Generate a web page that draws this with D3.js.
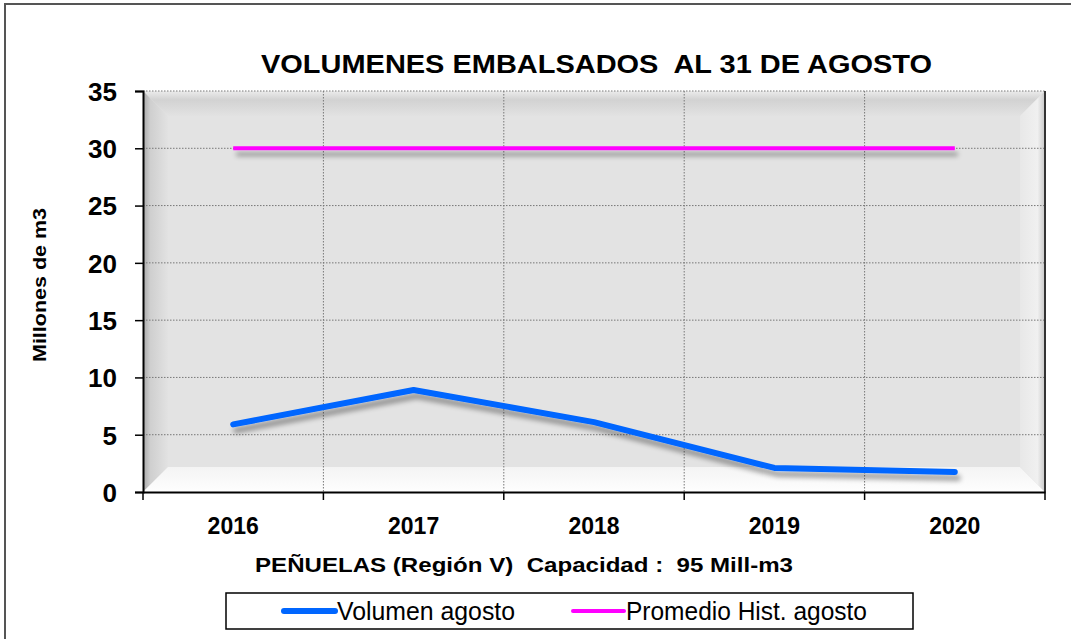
<!DOCTYPE html>
<html>
<head>
<meta charset="utf-8">
<script src="https://cdn.jsdelivr.net/npm/d3@7"></script>
<style>
  body { margin: 0; background: #fff; }
  svg { display: block; font-family: "Liberation Sans", Arial, sans-serif; }
</style>
</head>
<body>
<script>
// data
const years = ["2016", "2017", "2018", "2019", "2020"];
const volumen = [5.9, 8.9, 6.1, 2.1, 1.75];
const promedio = [30, 30, 30, 30, 30];
const yTicks = [0, 5, 10, 15, 20, 25, 30, 35];

const width = 1071;
const height = 639;

const svg = d3.select("body")
        .append("svg")
        .attr("width", width)
        .attr("height", height)

const defs = svg.append("defs")

// shadow behind the lines (user space so a flat line keeps its region)
const shadow = defs.append("filter")
        .attr("id", "shadow")
        .attr("filterUnits", "userSpaceOnUse")
        .attr("x", 0).attr("y", 0)
        .attr("width", width).attr("height", height)
shadow.append("feGaussianBlur").attr("in", "SourceAlpha").attr("stdDeviation", 2.5).attr("result", "blur")
shadow.append("feOffset").attr("in", "blur").attr("dx", 3).attr("dy", 6).attr("result", "off")
shadow.append("feComponentTransfer").attr("in", "off").attr("result", "soft")
        .append("feFuncA").attr("type", "linear").attr("slope", 0.35)
const merge = shadow.append("feMerge")
merge.append("feMergeNode").attr("in", "soft")
merge.append("feMergeNode").attr("in", "SourceGraphic")

const grad = (id, x2, y2, stops) => {
    const g = defs.append("linearGradient").attr("id", id)
        .attr("x1", 0).attr("y1", 0).attr("x2", x2).attr("y2", y2)
    stops.forEach(s => g.append("stop").attr("offset", s[0]).attr("stop-color", s[1]))
}
grad("bevTop", 0, 1, [[0, "#ececec"], [0.35, "#d2d2d2"], [1, "#e2e2e2"]])
grad("bevLeft", 1, 0, [[0, "#a8a8a8"], [0.3, "#cfcfcf"], [1, "#e2e2e2"]])
grad("bevBottom", 0, 1, [[0, "#f4f4f4"], [1, "#fefefe"]])
grad("bevRight", 1, 0, [[0, "#e8e8e8"], [0.7, "#f0f0f0"], [1, "#c8c8c8"]])

// outer frame
svg.append("rect")
        .attr("x", 5).attr("y", 4)
        .attr("width", 1100).attr("height", 700)
        .attr("fill", "none")
        .attr("stroke", "#555")
        .attr("stroke-width", 2)

const scaleX = d3.scaleBand()
        .domain(years)
        .range([143, 1045])
        .padding(0)

const scaleY = d3.scaleLinear()
        .domain([0, 35])
        .range([492, 91])

const x0 = scaleX.range()[0], x1 = scaleX.range()[1]
const yTop = scaleY(35), yBot = scaleY(0)
const bev = 25

// plot background with a bevel
svg.append("rect")
        .attr("x", x0).attr("y", yTop)
        .attr("width", x1 - x0).attr("height", yBot - yTop)
        .attr("fill", "#e3e3e3")

const bevels = [
    ["bevTop", [[x0, yTop], [x1, yTop], [x1 - bev, yTop + bev], [x0 + bev, yTop + bev]]],
    ["bevLeft", [[x0, yTop], [x0 + bev, yTop + bev], [x0 + bev, yBot - bev], [x0, yBot]]],
    ["bevBottom", [[x0, yBot], [x0 + bev, yBot - bev], [x1 - bev, yBot - bev], [x1, yBot]]],
    ["bevRight", [[x1, yTop], [x1, yBot], [x1 - bev, yBot - bev], [x1 - bev, yTop + bev]]]
]
svg.selectAll(".bevel")
        .data(bevels)
        .enter()
        .append("polygon")
        .attr("class", "bevel")
        .attr("points", d => d[1].map(p => p.join(",")).join(" "))
        .attr("fill", d => `url(#${d[0]})`)

// grid lines
svg.selectAll(".hgrid")
        .data(yTicks.filter(d => d > 0))
        .enter()
        .append("line")
        .attr("class", "hgrid")
        .attr("x1", x0).attr("x2", x1)
        .attr("y1", d => scaleY(d)).attr("y2", d => scaleY(d))
        .attr("stroke", "#777")
        .attr("stroke-width", 1)
        .attr("stroke-dasharray", "1.5,1.5")

svg.selectAll(".vgrid")
        .data(years.slice(1))
        .enter()
        .append("line")
        .attr("class", "vgrid")
        .attr("x1", d => scaleX(d)).attr("x2", d => scaleX(d))
        .attr("y1", yTop).attr("y2", yBot)
        .attr("stroke", "#777")
        .attr("stroke-width", 1)
        .attr("stroke-dasharray", "1.5,1.5")

// right edge of the plot
svg.append("line")
        .attr("x1", x1).attr("x2", x1)
        .attr("y1", yTop).attr("y2", yBot)
        .attr("stroke", "#333")
        .attr("stroke-width", 2)

// axes
const yAxis = d3.axisLeft(scaleY)
        .tickValues(yTicks)
        .tickSize(8)
        .tickPadding(18)

svg.append("g")
        .attr("transform", `translate(${x0},0)`)
        .call(yAxis)
        .call(g => g.select(".domain").attr("stroke", "#000").attr("stroke-width", 2))
        .call(g => g.selectAll(".tick line").attr("stroke", "#000").attr("stroke-width", 1.5))
        .call(g => g.selectAll("text")
            .attr("font-size", 26).attr("font-weight", "bold")
            .attr("font-family", "'Liberation Sans', Arial, sans-serif")
            .attr("fill", "#000").attr("dy", "0.36em"))

const xAxis = d3.axisBottom(scaleX)
        .tickSize(0)
        .tickPadding(26)

svg.append("g")
        .attr("transform", `translate(0,${yBot})`)
        .call(xAxis)
        .call(g => g.select(".domain").attr("stroke", "#000").attr("stroke-width", 2))
        .call(g => g.selectAll("text")
            .attr("font-size", 23).attr("font-weight", "bold")
            .attr("font-family", "'Liberation Sans', Arial, sans-serif")
            .attr("fill", "#000"))

// x tick marks at category boundaries
svg.selectAll(".xtick")
        .data(years.concat(["end"]))
        .enter()
        .append("line")
        .attr("class", "xtick")
        .attr("x1", d => d === "end" ? x1 : scaleX(d))
        .attr("x2", d => d === "end" ? x1 : scaleX(d))
        .attr("y1", yBot).attr("y2", yBot + 8)
        .attr("stroke", "#000")
        .attr("stroke-width", 1.5)

// series
const line = d3.line()
        .x((d, i) => scaleX(years[i]) + scaleX.bandwidth() / 2)
        .y(d => scaleY(d))

svg.append("path")
        .datum(promedio)
        .attr("d", line)
        .attr("fill", "none")
        .attr("stroke", "#ff00ff")
        .attr("stroke-width", 4)
        .attr("filter", "url(#shadow)")

svg.append("path")
        .datum(volumen)
        .attr("d", line)
        .attr("fill", "none")
        .attr("stroke", "#0066ff")
        .attr("stroke-width", 6)
        .attr("stroke-linecap", "round")
        .attr("stroke-linejoin", "round")
        .attr("filter", "url(#shadow)")

// titles (the source text is stretched sideways)
svg.append("text")
        .attr("x", 261).attr("y", 73)
        .attr("font-size", 25).attr("font-weight", "bold")
        .attr("textLength", 671)
        .attr("lengthAdjust", "spacingAndGlyphs")
        .style("white-space", "pre")
        .text("VOLUMENES EMBALSADOS  AL 31 DE AGOSTO")

svg.append("text")
        .attr("transform", "translate(46,285) rotate(-90)")
        .attr("text-anchor", "middle")
        .attr("font-size", 19).attr("font-weight", "bold")
        .attr("textLength", 154)
        .attr("lengthAdjust", "spacingAndGlyphs")
        .text("Millones de m3")

svg.append("text")
        .attr("x", 255).attr("y", 572)
        .attr("font-size", 21).attr("font-weight", "bold")
        .attr("textLength", 538)
        .attr("lengthAdjust", "spacingAndGlyphs")
        .style("white-space", "pre")
        .text("PEÑUELAS (Región V)  Capacidad :  95 Mill-m3")

// legend
const legendItems = ["Volumen agosto", "Promedio Hist. agosto"]
const legendColors = ["#0066ff", "#ff00ff"]
const legendX = [284, 573]
const legendLen = [178, 241]

svg.append("rect")
        .attr("x", 226).attr("y", 593)
        .attr("width", 687).attr("height", 36)
        .attr("fill", "#fff")
        .attr("stroke", "#000")
        .attr("stroke-width", 1.5)

const leg = svg.selectAll(".leg")
        .data(legendItems)
        .enter()
        .append("g")
        .attr("class", "leg")
        .attr("transform", (d, i) => `translate(${legendX[i]},611)`)

leg.append("line")
        .attr("x1", 0).attr("x2", 51)
        .attr("stroke", (d, i) => legendColors[i])
        .attr("stroke-width", (d, i) => i === 0 ? 6 : 4)
        .attr("stroke-linecap", "round")

leg.append("text")
        .attr("x", 53).attr("y", 9)
        .attr("font-size", 25)
        .attr("font-family", "'Liberation Sans Narrow', 'Liberation Sans', Arial, sans-serif")
        .attr("textLength", (d, i) => legendLen[i])
        .attr("lengthAdjust", "spacingAndGlyphs")
        .text(d => d)
</script>
</body>
</html>
